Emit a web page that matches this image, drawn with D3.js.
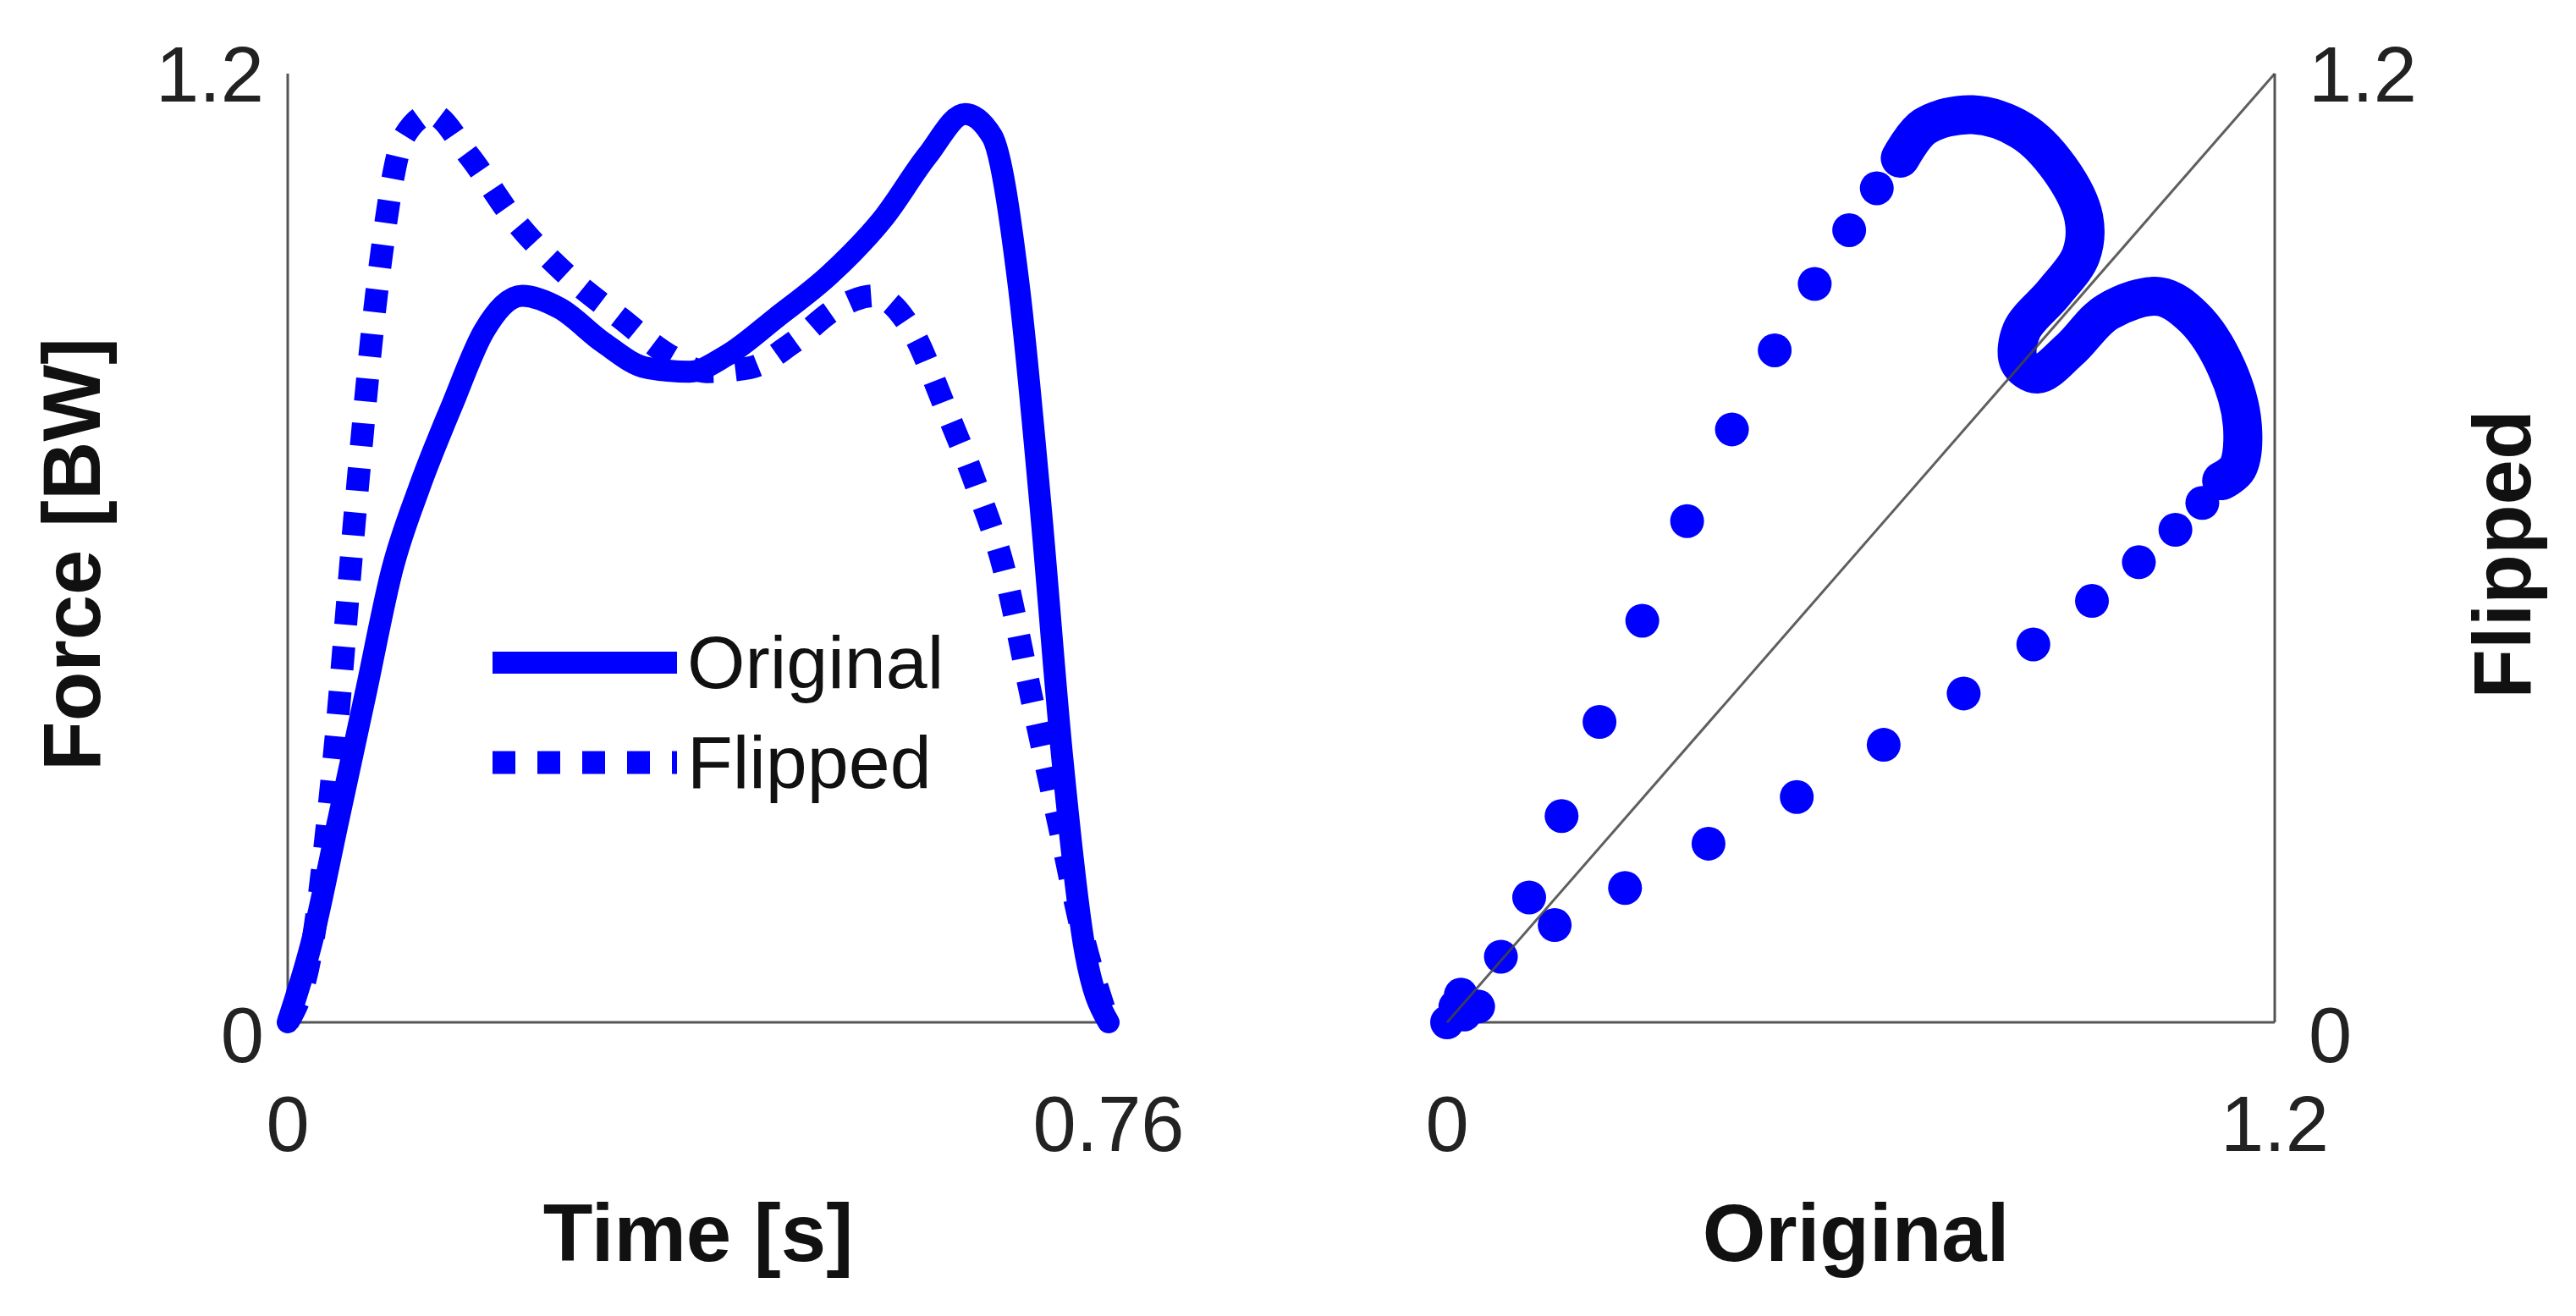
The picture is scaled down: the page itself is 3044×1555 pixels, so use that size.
<!DOCTYPE html>
<html><head><meta charset="utf-8">
<script src="https://cdn.jsdelivr.net/npm/d3@7"></script>
<style>body{margin:0;background:#fff}svg{display:block}</style>
</head><body>
<script>
// ---- data ----
const origTime = [0,0.022,0.047,0.072,0.097,0.122,0.152,0.182,0.217,0.252,0.292,0.332,0.372,0.407,0.452,0.502,0.552,0.592,0.627,0.652,0.677,0.697,0.717,0.737,0.76];
const origForce = [0,0.10,0.257,0.415,0.574,0.677,0.78,0.875,0.919,0.903,0.86,0.828,0.823,0.844,0.891,0.946,1.018,1.096,1.149,1.121,0.930,0.653,0.336,0.10,0];
const flipTime = [0,0.023,0.043,0.063,0.083,0.108,0.133,0.168,0.208,0.258,0.308,0.353,0.388,0.428,0.468,0.508,0.543,0.578,0.608,0.638,0.663,0.688,0.713,0.738,0.76];
const flipForce = [0,0.10,0.336,0.653,0.930,1.121,1.149,1.096,1.018,0.946,0.891,0.844,0.823,0.828,0.86,0.903,0.919,0.875,0.78,0.677,0.574,0.415,0.257,0.10,0];

// scatter (Original vs Flipped)
const scatOrig = [0,0.012,0.025,0.02,0.045,0.078,0.119,0.166,0.221,0.283,0.348,0.413,0.475,0.533,0.583,0.623,0.657,
                  0.156,0.258,0.379,0.507,0.633,0.749,0.850,0.935,1.003,1.056,1.095,1.123];
const scatFlip = [0,0.02,0.01,0.035,0.02,0.083,0.158,0.261,0.380,0.508,0.634,0.750,0.850,0.934,1.002,1.055,1.093,
                  0.123,0.170,0.226,0.285,0.351,0.416,0.478,0.533,0.582,0.623,0.657,0.685];
// densely sampled part (peaks) of the scatter
const denseOrig = [0.657,0.692,0.762,0.833,0.888,0.923,0.919,0.880,0.833,0.829,0.856,0.903,0.958,1.033,1.083,1.130,1.153,1.146,1.123];
const denseFlip = [1.093,1.133,1.148,1.128,1.080,1.018,0.970,0.923,0.875,0.836,0.820,0.851,0.899,0.918,0.891,0.828,0.756,0.701,0.685];

const xTicksL = ["0","0.76"], yTicks = ["0","1.2"], xTicksR = ["0","1.2"];
const legendLabels = ["Original","Flipped"];

// ---- drawing ----
const W=3044,H=1555, blue="#0000ff", axc="#555";
const svg=d3.select("body").append("svg").attr("width",W).attr("height",H);
const font="Liberation Sans, Arial, sans-serif";

const xL=d3.scaleLinear().domain([0,0.76]).range([340,1310]);
const y=d3.scaleLinear().domain([0,1.2]).range([1208,87]);
const xR=d3.scaleLinear().domain([0,1.2]).range([1710,2688]);

svg.append("line").attr("x1",xL(0)).attr("x2",xL(0)).attr("y1",y(0)).attr("y2",y(1.2)).attr("stroke",axc).attr("stroke-width",3);
svg.append("line").attr("x1",xL(0)).attr("x2",xL(0.76)).attr("y1",y(0)).attr("y2",y(0)).attr("stroke",axc).attr("stroke-width",3);

const lineO=d3.line().x(d=>xL(d[0])).y(d=>y(d[1])).curve(d3.curveMonotoneX);
svg.append("path").attr("d",lineO(flipTime.map((t,i)=>[t,flipForce[i]])))
  .attr("fill","none").attr("stroke",blue).attr("stroke-width",27).attr("stroke-dasharray","27,26");
svg.append("path").attr("d",lineO(origTime.map((t,i)=>[t,origForce[i]])))
  .attr("fill","none").attr("stroke",blue).attr("stroke-width",26).attr("stroke-linejoin","round").attr("stroke-linecap","round");

[[783,null],[901,"27,26"]].forEach((r,i)=>{
  const l=svg.append("line").attr("x1",582).attr("x2",800).attr("y1",r[0]).attr("y2",r[0])
    .attr("stroke",blue).attr("stroke-width",i?27:26);
  if(r[1]) l.attr("stroke-dasharray",r[1]);
  svg.append("text").attr("x",812).attr("y",r[0]+30).attr("font-family",font).attr("font-size",88)
    .attr("fill","#111").text(legendLabels[i]);
});

const tick=(x,yy,t,anchor)=>svg.append("text").attr("x",x).attr("y",yy).attr("text-anchor",anchor)
  .attr("font-family",font).attr("font-size",92).attr("fill","#222").text(t);
tick(312,y(1.2)+33,yTicks[1],"end");
tick(312,y(0)+47,yTicks[0],"end");
tick(xL(0),1360,xTicksL[0],"middle");
tick(xL(0.76),1360,xTicksL[1],"middle");

const title=(x,yy,t,rot)=>{const e=svg.append("text").attr("text-anchor","middle").attr("font-family",font)
  .attr("font-weight","bold").attr("font-size",96).attr("fill","#111").text(t);
  if(rot) e.attr("transform",`translate(${x},${yy}) rotate(-90)`); else e.attr("x",x).attr("y",yy);};
title(825,1490,"Time [s]");
title(118,655,"Force [BW]",true);

svg.append("line").attr("x1",xR(0)).attr("x2",xR(1.2)).attr("y1",y(0)).attr("y2",y(0)).attr("stroke",axc).attr("stroke-width",3);
svg.append("line").attr("x1",xR(1.2)).attr("x2",xR(1.2)).attr("y1",y(0)).attr("y2",y(1.2)).attr("stroke",axc).attr("stroke-width",3);

const lineR=d3.line().x(d=>xR(d[0])).y(d=>y(d[1])).curve(d3.curveCatmullRom);
svg.append("path").attr("d",lineR(denseOrig.map((v,i)=>[v,denseFlip[i]])))
  .attr("fill","none").attr("stroke",blue).attr("stroke-width",46).attr("stroke-linecap","round").attr("stroke-linejoin","round");
svg.selectAll("circle.s").data(scatOrig.map((v,i)=>[v,scatFlip[i]]).concat(denseOrig.map((v,i)=>[v,denseFlip[i]])))
  .enter().append("circle").attr("cx",d=>xR(d[0])).attr("cy",d=>y(d[1])).attr("r",20).attr("fill",blue);
svg.append("line").attr("x1",xR(0)).attr("x2",xR(1.2)).attr("y1",y(0)).attr("y2",y(1.2)).attr("stroke","#444").attr("stroke-width",3).attr("opacity",0.85);

tick(2728,y(1.2)+33,yTicks[1],"start");
tick(2728,y(0)+47,yTicks[0],"start");
tick(xR(0),1360,xTicksR[0],"middle");
tick(xR(1.2),1360,xTicksR[1],"middle");
title(2193,1490,"Original");
title(2990,655,"Flipped",true);
</script>
</body></html>
